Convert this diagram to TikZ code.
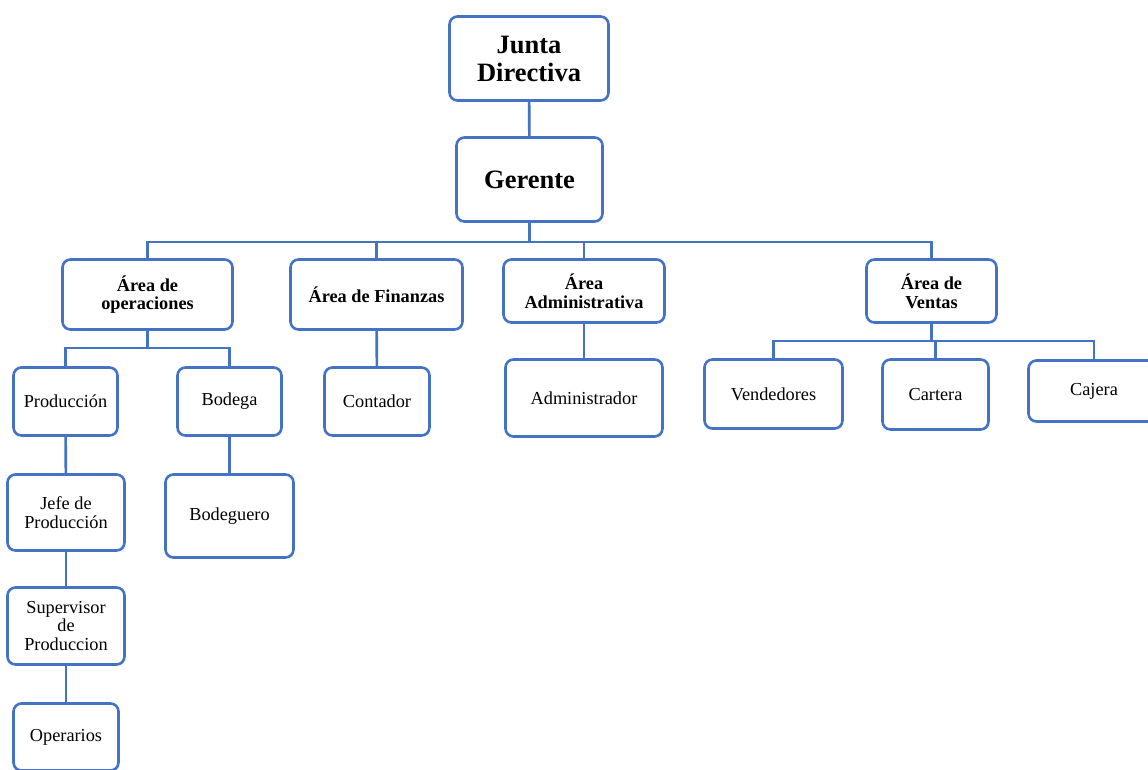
\documentclass[tikz,border=0pt]{standalone}
\usepackage{fontspec}
\setmainfont{Liberation Serif}
\definecolor{chartblue}{HTML}{4472C4}
\tikzset{
  box/.style={draw=chartblue, line width=2.6pt, rounded corners=8pt, fill=white,
    align=center, inner sep=0pt, font=\fontsize{18.3pt}{18.6pt}\selectfont},
  headbox/.style={box, font=\fontsize{18.3pt}{18.6pt}\selectfont\bfseries},
  topbox/.style={box, font=\fontsize{26.5pt}{28pt}\selectfont\bfseries},
  link/.style={draw=chartblue, line width=2.6pt}
}
\begin{document}
\begin{tikzpicture}[x=1pt, y=-1pt]
  \useasboundingbox (0,0) rectangle (1148,769);
  \clip (0,0) rectangle (1148,769);
  \fill[white] (0,0) rectangle (1148,769);

  % bus lines
  \coordinate (mainbus) at (0,242);
  \coordinate (opsbus) at (0,348);
  \coordinate (salesbus) at (0,341);

  % top levels
  \node[topbox, minimum width=159pt, minimum height=84pt] (junta) at (529,58.5) {Junta\\Directiva};
  \node[topbox, minimum width=146pt, minimum height=84pt] (gerente) at (529.5,179.5) {Gerente};

  % areas
  \node[headbox, minimum width=170pt, minimum height=70pt] (ops) at (147.5,294.5) {Área de\\operaciones};
  \node[headbox, minimum width=172pt, minimum height=70pt] (fin) at (376.5,294.5) {Área de Finanzas};
  \node[headbox, minimum width=161pt, minimum height=63pt] (adm) at (584,291) {Área\\Administrativa};
  \node[headbox, minimum width=130pt, minimum height=63pt] (ven) at (931.5,291) {Área de\\Ventas};

  % operaciones
  \node[box, minimum width=104pt, minimum height=68pt] (prod) at (65.5,401.5) {Producción};
  \node[box, minimum width=104pt, minimum height=68pt] (bod) at (229.5,401.5) {Bodega};
  \node[box, minimum width=117pt, minimum height=76pt] (jefe) at (66,512.5) {Jefe de\\Producción};
  \node[box, minimum width=128pt, minimum height=83pt] (bodg) at (229.5,516) {Bodeguero};
  \node[box, minimum width=117pt, minimum height=77pt] (sup) at (66,626) {Supervisor\\de\\Produccion};
  \node[box, minimum width=105pt, minimum height=67pt] (oper) at (66,737) {Operarios};

  % finanzas and administrativa
  \node[box, minimum width=105pt, minimum height=68pt] (cont) at (377,401.5) {Contador};
  \node[box, minimum width=157pt, minimum height=77pt] (admr) at (584,398) {Administrador};

  % ventas
  \node[box, minimum width=138pt, minimum height=69pt] (vend) at (773.5,394) {Vendedores};
  \node[box, minimum width=106pt, minimum height=70pt] (cart) at (935.5,394.5) {Cartera};
  \node[box, minimum width=131pt, minimum height=61pt] (caj) at (1094,391) {Cajera};

  % connectors
  \draw[link] (junta) -- (gerente);
  \draw[link] (gerente.south) -- (gerente.south |- mainbus);
  \draw[link] (ops.north) |- (ven.north |- mainbus) -- (ven.north);
  \draw[link] (fin.north) -- (fin.north |- mainbus);
  \draw[link] (adm.north) -- (adm.north |- mainbus);

  \draw[link] (ops.south) -- (ops.south |- opsbus);
  \draw[link] (prod.north) |- (bod.north |- opsbus) -- (bod.north);
  \draw[link] (prod) -- (jefe);
  \draw[link] (jefe) -- (sup);
  \draw[link] (sup) -- (oper);
  \draw[link] (bod) -- (bodg);

  \draw[link] (fin) -- (cont);
  \draw[link] (adm) -- (admr);

  \draw[link] (ven.south) -- (ven.south |- salesbus);
  \draw[link] (vend.north) |- (caj.north |- salesbus) -- (caj.north);
  \draw[link] (cart.north) -- (cart.north |- salesbus);
\end{tikzpicture}
\end{document}
